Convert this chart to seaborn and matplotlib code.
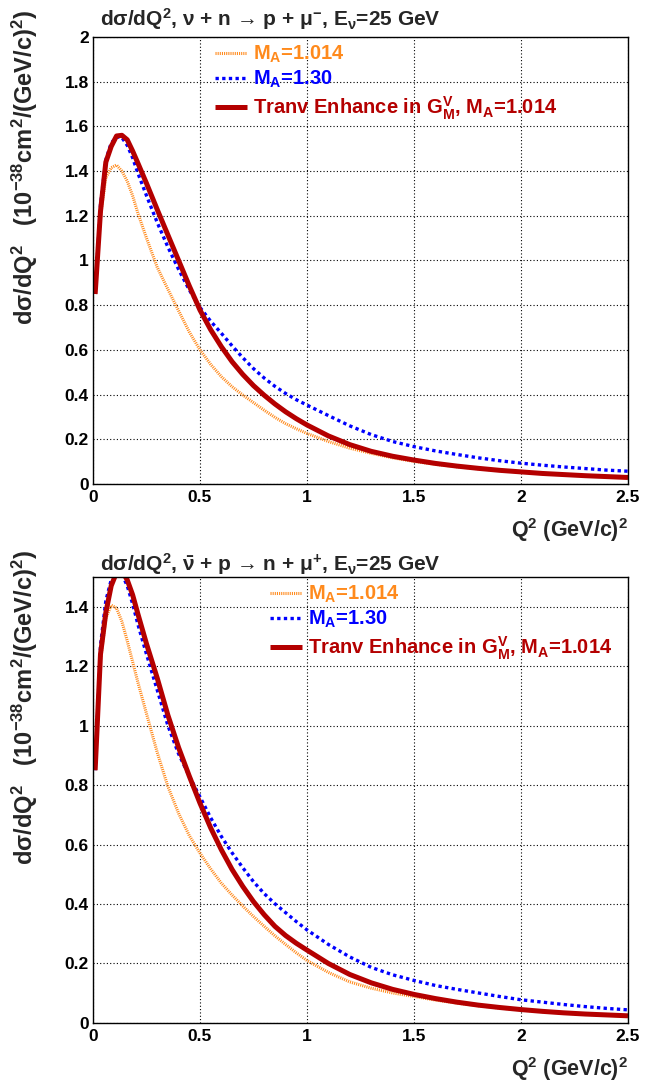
import numpy as np
import pandas as pd
import matplotlib
matplotlib.use("Agg")
import matplotlib.pyplot as plt
from matplotlib.ticker import MultipleLocator, FormatStrFormatter
import seaborn as sns

# Q^2 sampling points (GeV/c)^2
q2 = [0.01, 0.035, 0.06, 0.085, 0.11, 0.135, 0.16, 0.185, 0.21, 0.25, 0.3,
      0.35, 0.4, 0.45, 0.5, 0.55, 0.6, 0.65, 0.7, 0.75, 0.8, 0.85, 0.9, 0.95,
      1.0, 1.1, 1.2, 1.3, 1.4, 1.5, 1.6, 1.7, 1.8, 1.9, 2.0, 2.1, 2.2, 2.3,
      2.4, 2.5]

# neutrino: nu + n -> p + mu-
nu_ma1014 = [0.85, 1.20, 1.37, 1.415, 1.427, 1.40, 1.355, 1.29, 1.211, 1.10,
             0.97, 0.871, 0.775, 0.68, 0.60, 0.535, 0.48, 0.435, 0.398, 0.364,
             0.33, 0.298, 0.27, 0.247, 0.226, 0.19, 0.16, 0.137, 0.117, 0.101,
             0.088, 0.077, 0.068, 0.06, 0.053, 0.047, 0.041, 0.037, 0.033,
             0.029]
nu_ma130 = [0.85, 1.25, 1.45, 1.525, 1.553, 1.55, 1.515, 1.46, 1.39, 1.29,
            1.17, 1.06, 0.96, 0.868, 0.79, 0.728, 0.674, 0.618, 0.565, 0.516,
            0.474, 0.437, 0.405, 0.377, 0.353, 0.306, 0.26, 0.221, 0.19, 0.167,
            0.148, 0.132, 0.117, 0.104, 0.093, 0.084, 0.076, 0.069, 0.062,
            0.057]
nu_tem = [0.85, 1.22, 1.44, 1.51, 1.557, 1.56, 1.54, 1.49, 1.435, 1.345,
          1.228, 1.114, 1.0, 0.886, 0.778, 0.69, 0.614, 0.547, 0.49, 0.44,
          0.397, 0.358, 0.323, 0.292, 0.264, 0.215, 0.176, 0.146, 0.124,
          0.107, 0.092, 0.08, 0.07, 0.061, 0.054, 0.047, 0.042, 0.037, 0.033,
          0.029]

# antineutrino: nubar + p -> n + mu+
nubar_ma1014 = [0.85, 1.22, 1.36, 1.405, 1.395, 1.35, 1.285, 1.215, 1.145,
                1.04, 0.91, 0.795, 0.705, 0.63, 0.571, 0.518, 0.47, 0.43,
                0.393, 0.358, 0.325, 0.293, 0.264, 0.236, 0.21, 0.17, 0.138,
                0.117, 0.101, 0.089, 0.077, 0.067, 0.058, 0.05, 0.044, 0.038,
                0.033, 0.029, 0.026, 0.023]
nubar_ma130 = [0.85, 1.27, 1.42, 1.49, 1.515, 1.51, 1.47, 1.41, 1.34, 1.24,
               1.12, 1.0, 0.905, 0.83, 0.76, 0.69, 0.627, 0.572, 0.522, 0.475,
               0.435, 0.401, 0.371, 0.341, 0.313, 0.264, 0.222, 0.187, 0.162,
               0.143, 0.126, 0.113, 0.101, 0.089, 0.078, 0.07, 0.062, 0.055,
               0.049, 0.044]
nubar_tem = [0.85, 1.24, 1.38, 1.47, 1.515, 1.52, 1.49, 1.44, 1.375, 1.275,
             1.16, 1.035, 0.926, 0.83, 0.739, 0.656, 0.582, 0.516, 0.459,
             0.408, 0.364, 0.325, 0.294, 0.268, 0.245, 0.2, 0.163, 0.135,
             0.113, 0.096, 0.082, 0.07, 0.06, 0.052, 0.045, 0.039, 0.034,
             0.03, 0.027, 0.024]

titles = [r"dσ/dQ$^{2}$, ν + n → p + μ$^{-}$, E$_{ν}$=25 GeV",
          r"dσ/dQ$^{2}$, $\bar{ν}$ + p → n + μ$^{+}$, E$_{ν}$=25 GeV"]
labels = [r"M$_{A}$=1.014",
          r"M$_{A}$=1.30",
          r"Tranv Enhance in G$^{V}_{M}$, M$_{A}$=1.014"]
ylabel = r"dσ/dQ$^{2}$   (10$^{-38}$cm$^{2}$/(GeV/c)$^{2}$)"
xlabel = r"Q$^{2}$ (GeV/c)$^{2}$"

sns.set_theme(style="white")
plt.rcParams.update({
    "font.family": ["Liberation Sans", "DejaVu Sans"],
    "font.weight": "bold",
    "axes.labelweight": "bold",
    "mathtext.fontset": "custom",
    "mathtext.rm": "Liberation Sans:bold",
    "mathtext.it": "Liberation Sans:bold",
    "mathtext.bf": "Liberation Sans:bold",
    "mathtext.sf": "Liberation Sans:bold",
    "axes.linewidth": 1.0,
    "axes.edgecolor": "black",
})

ORANGE = "#ff8a1c"
BLUE = "#0000ff"
RED = "#b40000"

fig = plt.figure(figsize=(6.49, 10.81), dpi=100)
ax_top = fig.add_axes([0.1433, 0.5523, 0.8243, 0.4135])
ax_bot = fig.add_axes([0.1433, 0.0537, 0.8243, 0.4126])

panels = [
    (ax_top, nu_ma1014, nu_ma130, nu_tem, 2.0, titles[0], (0.228, 0.985), 1.012),
    (ax_bot, nubar_ma1014, nubar_ma130, nubar_tem, 1.5, titles[1], (0.331, 0.985), 1.0),
]

for ax, s1, s2, s3, ymax, title, legpos, ty in panels:
    df = pd.DataFrame({"q2": q2, "ma1014": s1, "ma130": s2, "tem": s3})
    sns.lineplot(data=df, x="q2", y="ma1014", ax=ax, color=ORANGE, lw=2.2,
                 linestyle=(0, (0.35, 0.35)), label=labels[0], sort=False,
                 estimator=None)
    sns.lineplot(data=df, x="q2", y="ma130", ax=ax, color=BLUE, lw=2.4,
                 linestyle=(0, (1.0, 1.0)), label=labels[1], sort=False,
                 estimator=None)
    sns.lineplot(data=df, x="q2", y="tem", ax=ax, color=RED, lw=3.6,
                 linestyle="-", label=labels[2], sort=False, estimator=None)
    for ln in ax.get_lines():
        ln.set_dash_capstyle("butt")
        ln.set_solid_capstyle("butt")
        ln.set_solid_joinstyle("round")

    ax.set_xlim(0, 2.5)
    ax.set_ylim(0, ymax)
    ax.xaxis.set_major_locator(MultipleLocator(0.5))
    ax.xaxis.set_minor_locator(MultipleLocator(0.1))
    ax.yaxis.set_major_locator(MultipleLocator(0.2))
    ax.yaxis.set_minor_locator(MultipleLocator(0.05))
    ax.xaxis.set_major_formatter(FormatStrFormatter("%g"))
    ax.yaxis.set_major_formatter(FormatStrFormatter("%g"))
    ax.tick_params(which="both", direction="in", top=False, right=False,
                   labelsize=12.5, colors="black", width=1.0)
    ax.tick_params(axis="x", which="major", length=11, pad=4)
    ax.tick_params(axis="x", which="minor", length=5.5)
    ax.tick_params(axis="y", which="major", length=10, pad=3)
    ax.tick_params(axis="y", which="minor", length=5)
    for t in ax.get_xticklabels() + ax.get_yticklabels():
        t.set_fontweight("bold")
    ax.grid(True, which="major", color="black", linestyle=(0, (1, 2)),
            linewidth=0.8)
    for sp in ax.spines.values():
        sp.set_visible(True)
        sp.set_color("black")

    ax.set_xlabel(xlabel, fontsize=15.5, fontweight="bold", loc="right",
                  labelpad=8)
    ax.set_ylabel(ylabel, fontsize=17, fontweight="bold", loc="top")
    ax.yaxis.set_label_coords(-0.1, 1.06)
    ax.text(0.013, ty, title, transform=ax.transAxes, fontsize=15,
            fontweight="bold", ha="left", va="bottom")

    leg = ax.legend(loc="upper left", bbox_to_anchor=legpos, frameon=False,
                    fontsize=14.5, handlelength=1.6, handletextpad=0.3,
                    labelspacing=0.2, borderpad=0, borderaxespad=0,
                    labelcolor="linecolor")
    for t in leg.get_texts():
        t.set_fontweight("bold")

fig.savefig("out.png", dpi=100)
